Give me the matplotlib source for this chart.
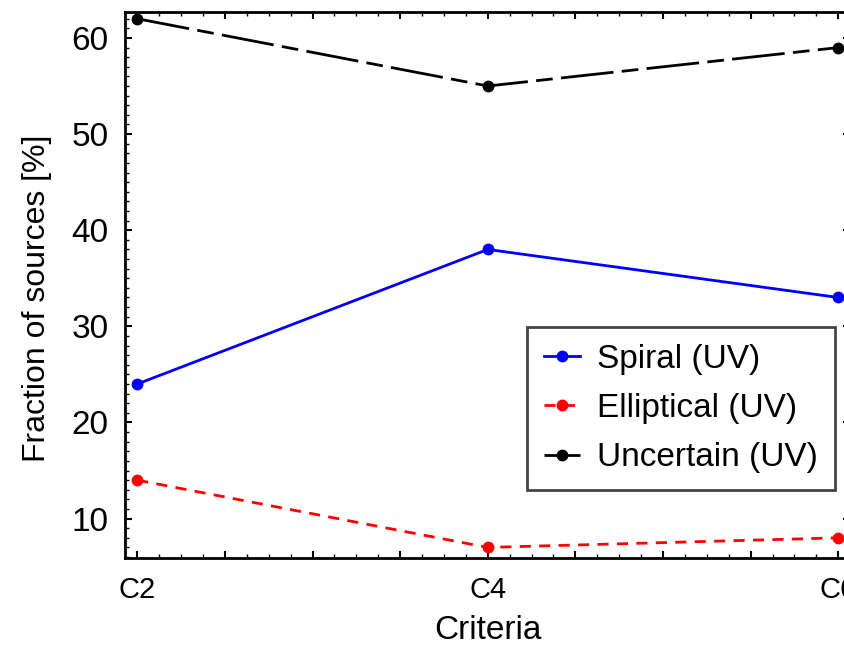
import matplotlib
matplotlib.use('Agg')
import matplotlib.pyplot as plt
from matplotlib.ticker import MultipleLocator, FuncFormatter

criteria = ['C2', 'C4', 'C6']
spiral = [24, 38, 33]
elliptical = [14, 7, 8]
uncertain = [62, 55, 59]

plt.rcParams['font.family'] = ['Liberation Sans', 'DejaVu Sans']
fig = plt.figure(figsize=(8.45, 6.51), dpi=100)
W, H = 845.0, 651.0
ax = fig.add_axes([125 / W, 1 - 558 / H, 725.5 / W, 546 / H])

x = list(range(len(criteria)))
ax.plot(x, spiral, color='blue', ls='-', lw=2, marker='o', ms=7.5, label='Spiral (UV)')
ax.plot(x, elliptical, color='red', ls=(0, (4, 3)), lw=2, marker='o', ms=7.5, label='Elliptical (UV)')
ax.plot(x, uncertain, color='black', ls=(0, (19, 3, 6, 3)), lw=2, marker='o', ms=7.5, label='Uncertain (UV)')

ax.set_xlim(-0.035, 2.035)
ax.set_ylim(5.9, 62.7)

ax.xaxis.set_major_locator(MultipleLocator(0.25))
ax.xaxis.set_major_formatter(FuncFormatter(
    lambda v, p: criteria[int(round(v))] if abs(v - round(v)) < 1e-6 and 0 <= round(v) < len(criteria) else ''))
ax.xaxis.set_minor_locator(MultipleLocator(0.0625))
ax.yaxis.set_major_locator(MultipleLocator(10))
ax.yaxis.set_minor_locator(MultipleLocator(1))

ax.tick_params(which='both', direction='in', top=True, right=True)
ax.tick_params(which='major', length=5, width=1.5)
ax.tick_params(axis='y', which='major', pad=12, labelsize=24)
ax.tick_params(axis='x', which='major', pad=13, labelsize=21)
ax.tick_params(which='minor', length=3, width=1)
for s in ax.spines.values():
    s.set_linewidth(2)

ax.set_xlabel('Criteria', fontsize=24, labelpad=8)
ax.set_ylabel('Fraction of sources [%]', fontsize=23)
ax.yaxis.set_label_coords(-73 / 725.5, 0.475)

leg = ax.legend(loc='upper left', bbox_to_anchor=(527 / W, 1 - 327 / H),
                bbox_transform=fig.transFigure, fontsize=24, handlelength=1.1,
                fancybox=False, framealpha=1, edgecolor='#444444',
                borderpad=0.5, borderaxespad=0, labelspacing=0.55, handletextpad=0.5)
leg.get_frame().set_linewidth(2)

fig.savefig('out.png', dpi=100)
